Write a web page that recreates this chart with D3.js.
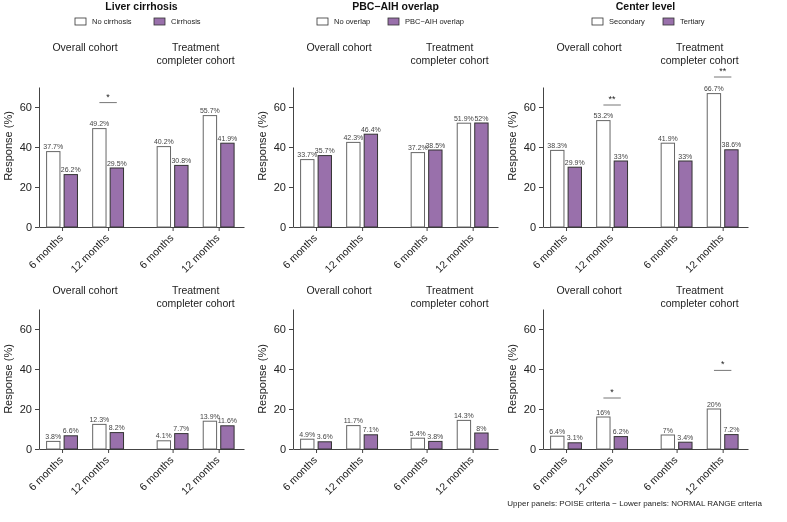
<!DOCTYPE html>
<html><head><meta charset="utf-8">
<script src="https://cdn.jsdelivr.net/npm/d3@7/dist/d3.min.js"></script>
<style>
body{margin:0;background:#fff;}
svg{opacity:0.999;will-change:transform;}
text{font-family:"Liberation Sans",Arial,Helvetica,sans-serif;}
</style></head>
<body><svg id="c" width="787" height="522"></svg>
<script>
// ---- data ----
const panelTitles = ["Liver cirrhosis", "PBC\u2212AIH overlap", "Center level"];
const legendLabels = [["No cirrhosis", "Cirrhosis"], ["No overlap", "PBC\u2212AIH overlap"], ["Secondary", "Tertiary"]];
const cohorts = [["Overall cohort"], ["Treatment", "completer cohort"]];
const months = ["6 months", "12 months", "6 months", "12 months"];
const xPositions = [1, 2, 3.4, 4.4];
const yTicks = [0, 20, 40, 60];
// order: overall 6m, overall 12m, completer 6m, completer 12m
const poiseRef = [[37.7, 49.2, 40.2, 55.7], [33.7, 42.3, 37.2, 51.9], [38.3, 53.2, 41.9, 66.7]];
const poiseGrp = [[26.2, 29.5, 30.8, 41.9], [35.7, 46.4, 38.5, 52], [29.9, 33, 33, 38.6]];
const normalRef = [[3.8, 12.3, 4.1, 13.9], [4.9, 11.7, 5.4, 14.3], [6.4, 16, 7, 20]];
const normalGrp = [[6.6, 8.2, 7.7, 11.6], [3.6, 7.1, 3.8, 8], [3.1, 6.2, 3.4, 7.2]];
const sigs = [
  {row: 0, panel: 0, idx: 1, level: 62.2, label: "*"},
  {row: 0, panel: 2, idx: 1, level: 61, label: "**"},
  {row: 0, panel: 2, idx: 3, level: 75, label: "**"},
  {row: 1, panel: 2, idx: 1, level: 25.5, label: "*"},
  {row: 1, panel: 2, idx: 3, level: 39.3, label: "*"}
];
const footer = "Upper panels: POISE criteria \u2212 Lower panels: NORMAL RANGE criteria";

// ---- layout ----
const purple = "#9970ab";
const axisX0 = [39, 293, 543];
const axisW = 205;
const rows = [{y0: 227, y1: 87, sub: 51, ref: poiseRef, grp: poiseGrp, ylab: 146},
              {y0: 449, y1: 309, sub: 294, ref: normalRef, grp: normalGrp, ylab: 379}];
const legendX = [[75, 154], [317, 388], [592, 663]];

const svg = d3.select("#c");
svg.append("rect").attr("width", 787).attr("height", 522).attr("fill", "#fff");
const barW = 0.29, barOff = 0.19;

panelTitles.forEach((title, p) => {
  const x = d3.scaleLinear().domain([0.5, 4.95]).range([axisX0[p], axisX0[p] + axisW]);
  const cx = axisX0[p] + axisW / 2;
  svg.append("text").attr("x", cx).attr("y", 10).attr("text-anchor", "middle")
    .attr("font-size", 10.5).attr("font-weight", "bold").attr("fill", "#111").text(title);
  legendLabels[p].forEach((lab, i) => {
    const lx = legendX[p][i];
    svg.append("rect").attr("x", lx).attr("y", 18).attr("width", 11).attr("height", 7)
      .attr("fill", i ? purple : "#fff").attr("stroke", "#333").attr("stroke-width", 0.8);
    svg.append("text").attr("x", lx + 17).attr("y", 24.3).attr("font-size", 7.5).attr("fill", "#222").text(lab);
  });

  rows.forEach((r, ri) => {
    const y = d3.scaleLinear().domain([0, 70]).range([r.y0, r.y1]);
    const g = svg.append("g");
    // subtitles
    cohorts.forEach((lines, ci) => {
      const sx = x(ci === 0 ? (xPositions[0] + xPositions[1]) / 2 : (xPositions[2] + xPositions[3]) / 2);
      lines.forEach((ln, li) => {
        g.append("text").attr("x", sx).attr("y", r.sub + li * 12.5).attr("text-anchor", "middle")
          .attr("font-size", 10.5).attr("fill", "#222").text(ln);
      });
    });
    // y axis
    const ya = g.append("g").attr("transform", `translate(${axisX0[p]},0)`)
      .call(d3.axisLeft(y).tickValues(yTicks).tickSize(4).tickPadding(3).tickSizeOuter(0));
    ya.select(".domain").attr("stroke", "#444");
    ya.selectAll(".tick line").attr("stroke", "#444");
    ya.selectAll(".tick text").attr("font-size", 11).attr("fill", "#222")
      .attr("font-family", "Liberation Sans, Arial, sans-serif");
    g.append("text").attr("transform", `translate(${axisX0[p] - 27},${r.ylab}) rotate(-90)`)
      .attr("text-anchor", "middle").attr("font-size", 11).attr("fill", "#222").text("Response (%)");
    // x axis
    const xa = g.append("g").attr("transform", `translate(0,${r.y0})`)
      .call(d3.axisBottom(x).tickValues(xPositions).tickSize(4).tickFormat("").tickSizeOuter(0));
    xa.select(".domain").attr("stroke", "#444");
    xa.selectAll(".tick line").attr("stroke", "#444");
    xPositions.forEach((xp, i) => {
      g.append("text").attr("transform", `translate(${x(xp) - 1},${r.y0 + 9}) rotate(-45)`)
        .attr("text-anchor", "end").attr("dy", "0.35em").attr("font-size", 10.5).attr("fill", "#222").text(months[i]);
    });
    // bars
    const series = [{vals: r.ref[p], off: -barOff, fill: "#fff", stroke: "#666"},
                    {vals: r.grp[p], off: barOff, fill: purple, stroke: "#333"}];
    series.forEach(s => {
      s.vals.forEach((v, i) => {
        const bx0 = x(xPositions[i] + s.off - barW / 2), bx1 = x(xPositions[i] + s.off + barW / 2);
        g.append("rect").attr("x", bx0).attr("y", y(v)).attr("width", bx1 - bx0).attr("height", y(0) - y(v))
          .attr("fill", s.fill).attr("stroke", s.stroke).attr("stroke-width", 1);
        g.append("text").attr("x", (bx0 + bx1) / 2).attr("y", y(v) - 2.5).attr("text-anchor", "middle")
          .attr("font-size", 7).attr("fill", "#444").text(v + "%");
      });
    });
    // significance
    sigs.filter(s => s.row === ri && s.panel === p).forEach(s => {
      const xc = x(xPositions[s.idx]);
      g.append("line").attr("x1", xc - 8.7).attr("x2", xc + 8.7).attr("y1", y(s.level)).attr("y2", y(s.level))
        .attr("stroke", "#777").attr("stroke-width", 1);
      g.append("text").attr("x", xc).attr("y", y(s.level) - 3).attr("text-anchor", "middle")
        .attr("font-size", 9).attr("fill", "#222").text(s.label);
    });
  });
});

svg.append("text").attr("x", 762).attr("y", 506).attr("text-anchor", "end")
  .attr("font-size", 8).attr("fill", "#222").text(footer);
</script></body></html>
